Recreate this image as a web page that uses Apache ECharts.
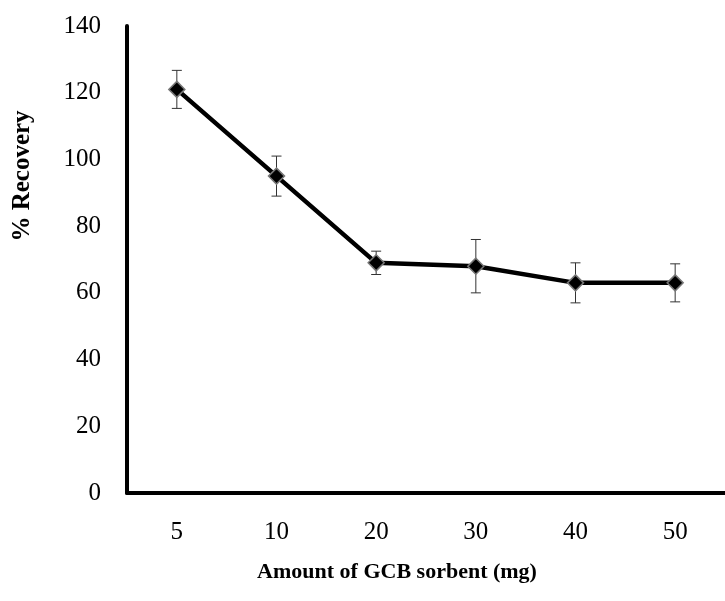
<!DOCTYPE html>
<html>
<head>
<meta charset="utf-8">
<script src="https://cdn.jsdelivr.net/npm/echarts@6/dist/echarts.min.js"></script>
<style>
  html, body { margin: 0; padding: 0; background: #fff; }
  #chart { width: 725px; height: 601px; }
</style>
</head>
<body>
<div id="chart"></div>
<script>
// 数据
const categories = ['5', '10', '20', '30', '40', '50']
const recovery = [121, 95, 69, 68, 63, 63]
const errors = [5.7, 6, 3.5, 8, 6, 5.7]
const yTicks = { min: 0, max: 140, interval: 20 }

const fontFamily = '"Liberation Serif", "DejaVu Serif", serif'

// 误差线数据 [index, value, err]
let errData = new Array
for (let i = 0; i < recovery.length; i++) {
    errData.push([i, recovery[i], errors[i]])
}

let chart = echarts.init(document.getElementById('chart'))
chart.setOption({
    animation: false,
    grid: { left: 127, top: 26, bottom: 108, right: -12, containLabel: false },
    xAxis: {
        type: 'category',
        data: categories,
        boundaryGap: true,
        axisLine: { lineStyle: { color: '#000', width: 4 } },
        axisTick: { show: false },
        axisLabel: { color: '#000', fontSize: 25, fontFamily: fontFamily, margin: 27 },
        splitLine: { show: false }
    },
    yAxis: {
        type: 'value',
        min: yTicks.min,
        max: yTicks.max,
        interval: yTicks.interval,
        axisLine: { show: true, lineStyle: { color: '#000', width: 4 } },
        axisTick: { show: false },
        axisLabel: { color: '#000', fontSize: 25, fontFamily: fontFamily, margin: 26 },
        splitLine: { show: false }
    },
    graphic: [
        {
            type: 'text',
            x: 397, y: 572,
            style: {
                text: 'Amount of GCB sorbent (mg)',
                font: 'bold 22px ' + fontFamily,
                fill: '#000',
                textAlign: 'center',
                textVerticalAlign: 'middle'
            }
        },
        {
            type: 'text',
            x: 23, y: 176,
            rotation: Math.PI / 2,
            style: {
                text: '% Recovery',
                font: 'bold 25px ' + fontFamily,
                fill: '#000',
                textAlign: 'center',
                textVerticalAlign: 'middle'
            }
        }
    ],
    series: [
        {
            type: 'custom',
            z: 1,
            data: errData,
            renderItem: function (params, api) {
                const idx = api.value(0)
                const v = api.value(1)
                const e = api.value(2)
                const top = api.coord([idx, v + e])
                const bot = api.coord([idx, v - e])
                const cap = 5
                const style = { stroke: '#333', lineWidth: 1 }
                return {
                    type: 'group',
                    children: [
                        { type: 'line', shape: { x1: top[0], y1: top[1], x2: bot[0], y2: bot[1] }, style: style },
                        { type: 'line', shape: { x1: top[0] - cap, y1: top[1], x2: top[0] + cap, y2: top[1] }, style: style },
                        { type: 'line', shape: { x1: bot[0] - cap, y1: bot[1], x2: bot[0] + cap, y2: bot[1] }, style: style }
                    ]
                }
            }
        },
        {
            type: 'line',
            z: 2,
            data: recovery,
            symbol: 'diamond',
            symbolSize: 16,
            lineStyle: { color: '#000', width: 4.5 },
            itemStyle: { color: '#000', borderColor: '#777', borderWidth: 1.5 }
        }
    ]
})
</script>
</body>
</html>
